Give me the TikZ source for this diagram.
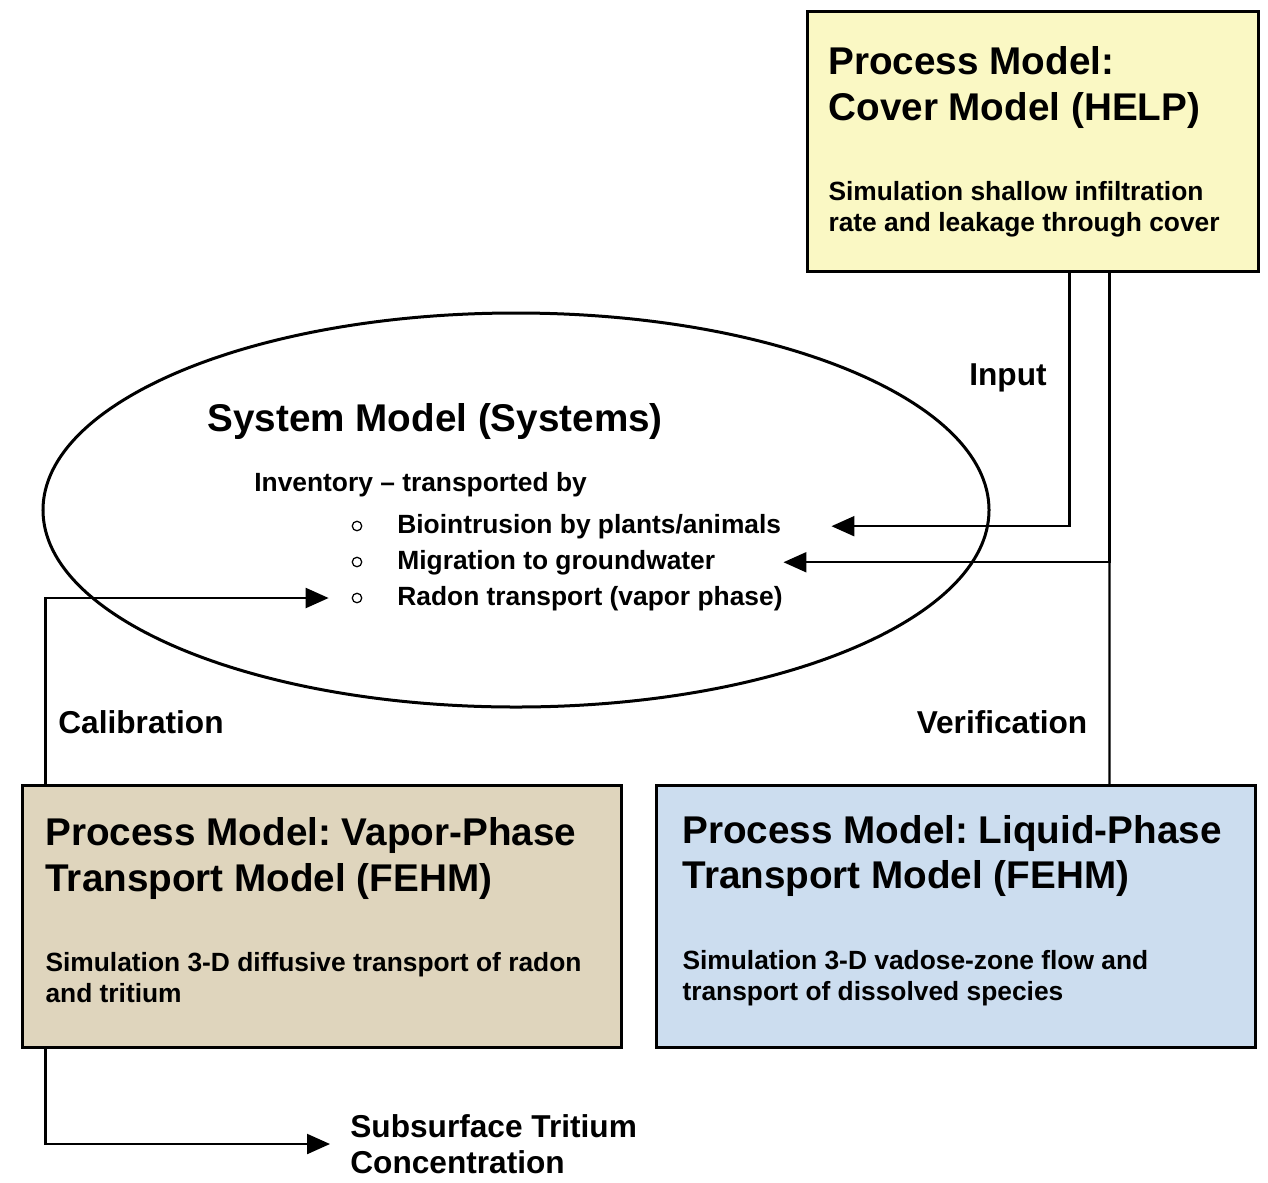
\documentclass[tikz,border=0pt]{standalone}
\usepackage{fontspec}
\setmainfont{Liberation Sans}
\usetikzlibrary{arrows.meta,shapes.geometric}
\definecolor{helpfill}{RGB}{250,248,196}
\definecolor{vaporfill}{RGB}{223,213,189}
\definecolor{liquidfill}{RGB}{204,221,239}
\setlength{\parindent}{0pt}
\newcommand{\boxtext}[3][0pt]{\spaceskip=0pt\xspaceskip=0pt\frenchspacing
    {\fontsize{22}{26}\selectfont #2\par}\vspace{28pt}{\fontsize{15}{17.6}\selectfont #3\par}
    \vspace{#1}\hrule height 0pt width 0pt}

\begin{document}
\begin{tikzpicture}[x=0.2mm,y=-0.2mm,font=\bfseries,
    procbox/.style={draw,line width=0.6mm,anchor=north west,inner xsep=0pt,align=left,
        minimum width=119.8mm,minimum height=52.4mm},
    wire/.style={line width=0.45mm},
    flow/.style={wire,-{Triangle[length=4.6mm,width=4mm]}},
    lbl/.style={font=\fontsize{18}{20.5}\selectfont\bfseries,inner sep=0pt},
    item/.style={font=\fontsize{15}{18}\selectfont\bfseries,inner sep=0pt,anchor=base west},
    bullet/.style={circle,draw,line width=0.25mm,minimum size=1.9mm,inner sep=0pt}]
\useasboundingbox (0,0) rectangle (1268,1182);

\node[procbox,fill=helpfill,minimum width=90.2mm,minimum height=52mm,text width=81.8mm] (helpbox) at (806,10)
    {\boxtext{Process Model:\\Cover Model (HELP)}{Simulation shallow infiltration\\rate and leakage through cover}};
\node[procbox,fill=vaporfill,text width=110.6mm] (vaporbox) at (21,784)
    {\boxtext[7pt]{Process Model: Vapor-Phase\\Transport Model (FEHM)}{Simulation 3-D diffusive transport of radon\\and tritium}};
\node[procbox,fill=liquidfill,text width=109.4mm] (liquidbox) at (655,784)
    {\boxtext[7pt]{Process Model: Liquid-Phase\\Transport Model (FEHM)}{Simulation 3-D vadose-zone flow and\\transport of dissolved species}};

\node[ellipse,draw,line width=0.6mm,minimum width=189.2mm,minimum height=78.8mm] (sysmodel) at (516,510) {};
\node[anchor=base west,inner sep=0pt,font=\fontsize{22}{26}\selectfont\bfseries] (systitle) at (207,431) {System Model (Systems)};
\node[item] (inventory) at (254,491) {Inventory -- transported by};
\foreach \name/\y/\txt in {bio/533/{Biointrusion by plants/animals},mig/569/{Migration to groundwater},rad/605/{Radon transport (vapor phase)}}
{
    \node[item] (\name) at (397,\y) {\txt};
    \node[bullet] (\name dot) at (357,\y-7) {};
}

\node[lbl] (input) at (1008,378) {Input};
\node[lbl] (calib) at (141,722) {Calibration};
\node[lbl] (verif) at (1002,722) {Verification};
\node[lbl,anchor=west,align=left] (tritium) at (350,1144) {Subsurface Tritium\\Concentration};

\draw[flow] ([xshift=7.3mm]helpbox.south) |- ([xshift=10mm]bio.east);
\draw[wire] ([xshift=30.7mm]liquidbox.north) -- ([xshift=15.3mm]helpbox.south);
\draw[flow] ([xshift=15.3mm]helpbox.south) |- ([xshift=13.6mm]mig.east);
\draw[flow] ([xshift=-55.3mm]vaporbox.north) |- ([xshift=-4.6mm]raddot.west);
\draw[flow] ([xshift=-55.3mm]vaporbox.south) |- ([xshift=-4mm]tritium.west);
\end{tikzpicture}
\end{document}
